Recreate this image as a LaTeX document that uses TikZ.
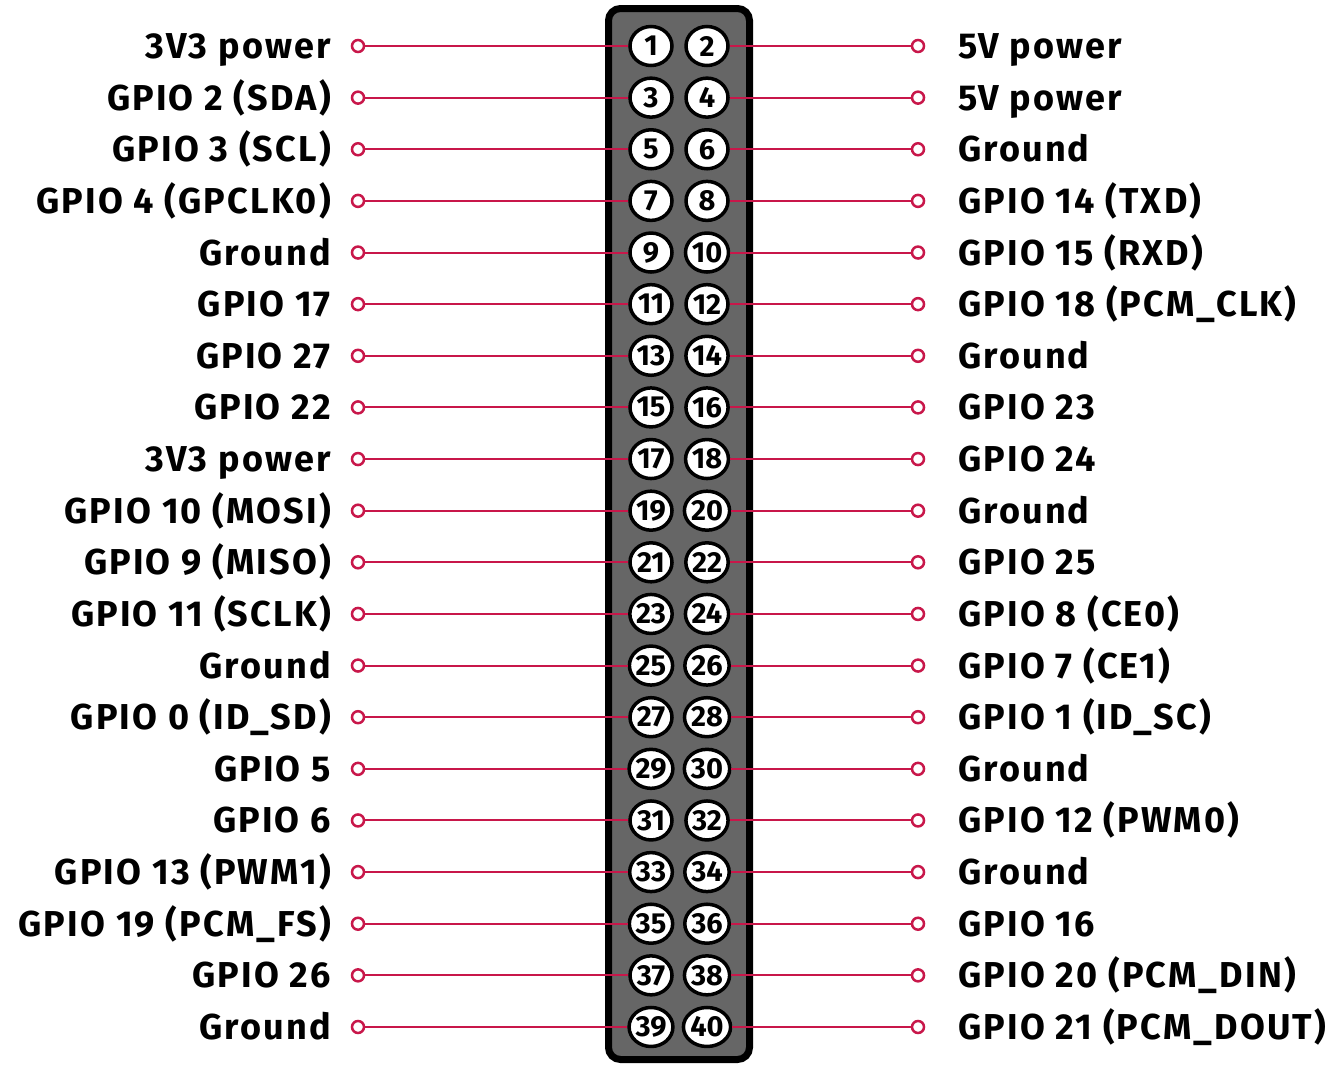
\documentclass[tikz,border=0pt]{standalone}
\usepackage{fontspec}
\setmainfont{Fira Sans}
\newfontfamily\labelfont{Fira Sans}[LetterSpace=6.0]
\usetikzlibrary{shapes.geometric}
\definecolor{pinred}{HTML}{C8174A}
\definecolor{headergrey}{HTML}{666666}
\tikzset{
  pin/.style={ellipse, draw=black, line width=3.5pt, fill=white, minimum width=42pt,
    minimum height=39pt, inner sep=0pt, font=\fontsize{29}{29}\selectfont\bfseries},
  wire/.style={pinred, line width=2pt},
  endring/.style={circle, draw=pinred, line width=2.5pt, fill=white,
    minimum size=12pt, inner sep=0pt},
  pinlabel/.style={inner sep=0pt, font=\labelfont\fontsize{36}{40}\selectfont\bfseries}
}
\begin{document}
\begin{tikzpicture}[x=1pt, y=-1pt]
  \useasboundingbox (0,0) rectangle (1340,1066);
  % header
  \draw[line width=7pt, fill=headergrey, rounded corners=12pt] (608.5,8.5) rectangle (749.5,1059.5);
  % odd pins, left side
  \foreach \lname [count=\i] in {3V3 power, GPIO 2 (SDA), GPIO 3 (SCL), GPIO 4 (GPCLK0),
      Ground, GPIO 17, GPIO 27, GPIO 22, 3V3 power, GPIO 10 (MOSI), GPIO 9 (MISO),
      GPIO 11 (SCLK), Ground, GPIO 0 (ID\_SD), GPIO 5, GPIO 6, GPIO 13 (PWM1),
      GPIO 19 (PCM\_FS), GPIO 26, Ground} {
    \pgfmathsetmacro{\y}{46+(\i-1)*51.63}
    \pgfmathtruncatemacro{\n}{2*\i-1}
    \node[pin] (p\n) at (651,\y) {\n};
    \node[endring] (el\i) at (358,\y) {};
    \draw[wire] (p\n) -- (el\i);
    \node[pinlabel, anchor=base east] (ll\i) at (331,\y+12.5) {\lname};
  }
  % even pins, right side
  \foreach \rname [count=\i] in {5V power, 5V power, Ground, GPIO 14 (TXD),
      GPIO 15 (RXD), GPIO 18 (PCM\_CLK), Ground, GPIO 23, GPIO 24, Ground, GPIO 25,
      GPIO 8 (CE0), GPIO 7 (CE1), GPIO 1 (ID\_SC), Ground, GPIO 12 (PWM0), Ground,
      GPIO 16, GPIO 20 (PCM\_DIN), GPIO 21 (PCM\_DOUT)} {
    \pgfmathsetmacro{\y}{46+(\i-1)*51.63}
    \pgfmathtruncatemacro{\n}{2*\i}
    \node[pin] (p\n) at (707,\y) {\n};
    \node[endring] (er\i) at (918,\y) {};
    \draw[wire] (p\n) -- (er\i);
    \node[pinlabel, anchor=base west] (rl\i) at (958,\y+12.5) {\rname};
  }
\end{tikzpicture}
\end{document}
